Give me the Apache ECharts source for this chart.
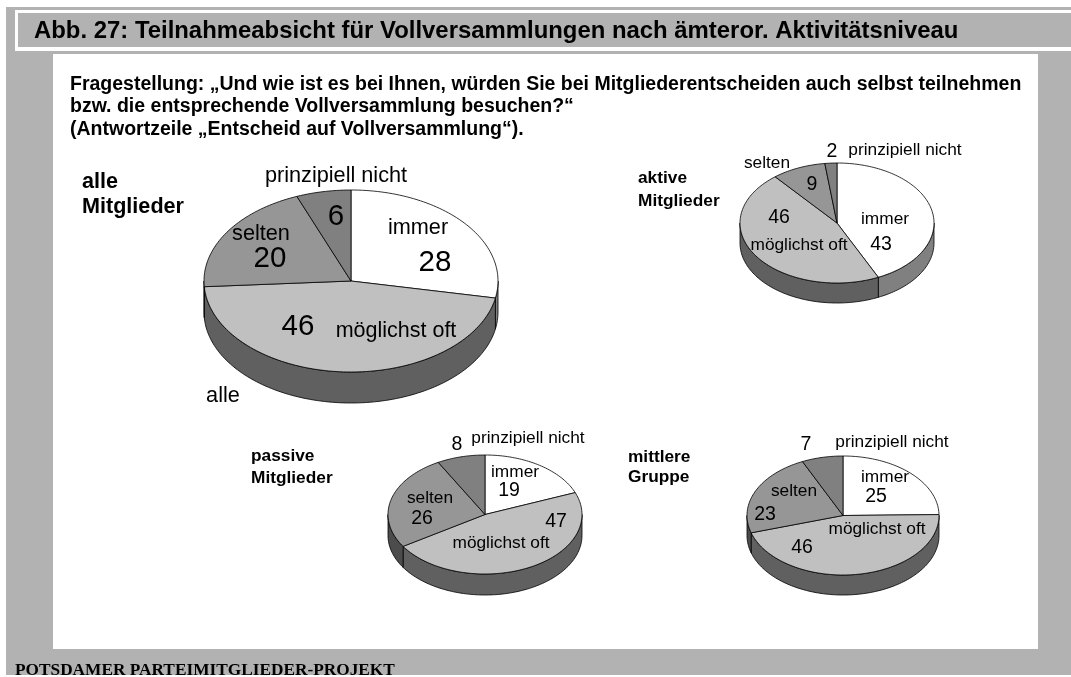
<!DOCTYPE html>
<html>
<head>
<meta charset="utf-8">
<style>
  html, body { margin: 0; padding: 0; background: #fff; }
  #chart { width: 1071px; height: 677px; }
</style>
<script src="https://cdn.jsdelivr.net/npm/echarts@6/dist/echarts.min.js"></script>
</head>
<body>
<div id="chart"></div>
<script>
// Shares in percent, order: immer, möglichst oft, selten, prinzipiell nicht
const categories = ['immer', 'möglichst oft', 'selten', 'prinzipiell nicht'];
const alleValues = [28, 46, 20, 6];
const aktiveValues = [43, 46, 9, 2];
const passiveValues = [19, 47, 26, 8];
const mittlereValues = [25, 46, 23, 7];

const topColors = ['#ffffff', '#c0c0c0', '#969696', '#808080'];
const wallColors = ['#808080', '#606060', '#4c4c4c', '#404040'];

// center and radii of each tilted pie
const pies = [
  { values: alleValues, cx: 351, cy: 281, rx: 147, ry: 91, depth: 31 },
  { values: aktiveValues, cx: 837, cy: 223, rx: 97, ry: 60, depth: 20 },
  { values: passiveValues, cx: 485, cy: 514.5, rx: 97, ry: 59.5, depth: 21 },
  { values: mittlereValues, cx: 843, cy: 515.5, rx: 96, ry: 59.5, depth: 20 }
];

const DEG = Math.PI / 180;

function rimPoint(pie, angle, drop) {
  return [
    pie.cx + pie.rx * Math.sin(angle),
    pie.cy - pie.ry * Math.cos(angle) + drop
  ];
}

function arcPoints(pie, from, to, drop) {
  const pts = [];
  const steps = Math.max(2, Math.ceil((to - from) / (1.5 * DEG)));
  for (let i = 0; i <= steps; i++) {
    pts.push(rimPoint(pie, from + (to - from) * i / steps, drop));
  }
  return pts;
}

// One custom series per pie: each data item is one slice [start, end, index]
function pieSeries(pie) {
  const total = pie.values.reduce((a, b) => a + b, 0);
  let sum = 0;
  const data = pie.values.map((v, i) => {
    const item = [sum / total, (sum + v) / total, i];
    sum += v;
    return item;
  });
  return {
    type: 'custom',
    coordinateSystem: 'none',
    silent: true,
    data: data,
    renderItem: function (params, api) {
      const a0 = api.value(0) * 2 * Math.PI;
      const a1 = api.value(1) * 2 * Math.PI;
      const idx = api.value(2);
      const line = { stroke: '#000', lineWidth: 0.8 };
      const children = [];

      // only the front half of the rim is visible
      const w0 = Math.max(a0, 90 * DEG);
      const w1 = Math.min(a1, 270 * DEG);
      if (w1 > w0) {
        const wall = arcPoints(pie, w0, w1, 0).concat(arcPoints(pie, w0, w1, pie.depth).reverse());
        children.push({
          type: 'polygon',
          shape: { points: wall },
          style: Object.assign({ fill: wallColors[idx] }, line)
        });
      }

      const top = [[pie.cx, pie.cy]].concat(arcPoints(pie, a0, a1, 0));
      children.push({
        type: 'polygon',
        shape: { points: top },
        style: Object.assign({ fill: topColors[idx] }, line)
      });
      return { type: 'group', children: children };
    }
  };
}

function label(text, x, y, size, opts) {
  return {
    type: 'text',
    z: 10,
    x: x,
    y: y,
    style: Object.assign({
      text: text,
      fill: '#000',
      font: size + 'px "Liberation Sans", Arial, sans-serif',
      textAlign: 'left',
      textVerticalAlign: 'middle'
    }, opts || {})
  };
}

function bold(text, x, y, size) {
  return label(text, x, y, size, { font: 'bold ' + size + 'px "Liberation Sans", Arial, sans-serif' });
}

function mid(text, x, y, size) {
  return label(text, x, y, size, { textAlign: 'center' });
}

const rect = (x, y, width, height, fill, z) => ({
  type: 'rect', z: z, silent: true, shape: { x, y, width, height }, style: { fill }
});

const frame = [
  rect(6, 7, 1065, 668, '#b2b2b2', -5),
  rect(15, 10, 1056, 41, '#ffffff', -4),
  rect(18, 13, 1053, 34, '#b2b2b2', -3),
  rect(53, 54, 985, 595, '#ffffff', -3)
];

const texts = [
  bold('Abb. 27: Teilnahmeabsicht für Vollversammlungen nach ämteror. Aktivitätsniveau', 34, 31, 23.9),
  bold('Fragestellung: „Und wie ist es bei Ihnen, würden Sie bei Mitgliederentscheiden auch selbst teilnehmen', 70, 85, 19.5),
  bold('bzw. die entsprechende Vollversammlung besuchen?“', 70, 107, 19.5),
  bold('(Antwortzeile „Entscheid auf Vollversammlung“).', 70, 130, 19.5),
  label('POTSDAMER PARTEIMITGLIEDER-PROJEKT', 15, 671, 17.3, { font: 'bold 17.3px "Liberation Serif", "Times New Roman", serif' }),

  // alle Mitglieder
  bold('alle', 82, 182, 21.6),
  bold('Mitglieder', 82, 207, 21.6),
  mid(categories[3], 336, 176, 21.7),
  mid(categories[0], 418, 228, 21.7),
  mid('28', 435, 263, 29.5),
  mid(categories[2], 261, 234, 21.7),
  mid('20', 270, 259, 29.5),
  mid('6', 336, 217, 29.5),
  mid('46', 298, 327, 29.5),
  mid(categories[1], 396, 331, 21.5),
  mid('alle', 223, 396, 21.7),

  // aktive Mitglieder
  bold('aktive', 638, 178, 17.3),
  bold('Mitglieder', 638, 201, 17.3),
  mid('2', 832, 152, 19.5),
  mid(categories[3], 905, 150, 17.3),
  mid(categories[2], 767, 163, 17.3),
  mid('9', 812, 185, 19.5),
  mid('46', 779, 218, 19.5),
  mid(categories[1], 799, 245, 17.3),
  mid(categories[0], 885, 219, 17.3),
  mid('43', 881, 245, 19.5),

  // passive Mitglieder
  bold('passive', 251, 456, 17.3),
  bold('Mitglieder', 251, 478, 17.3),
  mid('8', 457, 445, 19.5),
  mid(categories[3], 528, 438, 17.3),
  mid(categories[0], 515, 472, 17.3),
  mid('19', 509, 491, 19.5),
  mid(categories[2], 430, 498, 17.3),
  mid('26', 422, 519, 19.5),
  mid('47', 556, 522, 19.5),
  mid(categories[1], 501, 543, 17.3),

  // mittlere Gruppe
  bold('mittlere', 628, 457, 17.3),
  bold('Gruppe', 628, 477, 17.3),
  mid('7', 806, 445, 19.5),
  mid(categories[3], 892, 442, 17.3),
  mid(categories[0], 885, 477, 17.3),
  mid('25', 876, 497, 19.5),
  mid(categories[2], 794, 491, 17.3),
  mid('23', 765, 515, 19.5),
  mid(categories[1], 877, 529, 17.3),
  mid('46', 802, 548, 19.5)
];

const myChart = echarts.init(document.getElementById('chart'), null, { renderer: 'canvas' });
myChart.setOption({
  animation: false,
  backgroundColor: '#ffffff',
  graphic: { elements: frame.concat(texts) },
  series: pies.map(pieSeries)
});
</script>
</body>
</html>
